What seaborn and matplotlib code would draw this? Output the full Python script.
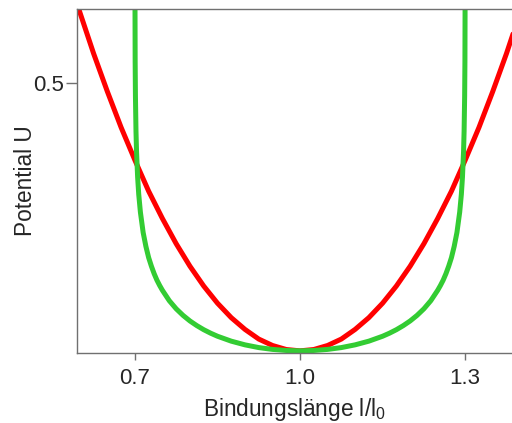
import numpy as np
import pandas as pd
import matplotlib
matplotlib.use("Agg")
import matplotlib.pyplot as plt
import seaborn as sns

# werte (Bindungslaenge l/l0 und Potential U)
# harmonisches potential (rot)
l_harm = [0.58, 0.60, 0.625, 0.65, 0.675, 0.70, 0.725, 0.75, 0.775, 0.80, 0.825,
          0.85, 0.875, 0.90, 0.925, 0.95, 0.975, 1.00, 1.025, 1.05, 1.075, 1.10,
          1.125, 1.15, 1.175, 1.20, 1.225, 1.25, 1.275, 1.30, 1.325, 1.35, 1.375, 1.40]
u_harm = [0.695, 0.632, 0.555, 0.484, 0.417, 0.356, 0.298, 0.247, 0.200, 0.158, 0.121,
          0.089, 0.062, 0.040, 0.022, 0.010, 0.0025, 0.0, 0.0025, 0.010, 0.022, 0.040,
          0.062, 0.089, 0.121, 0.158, 0.200, 0.247, 0.298, 0.356, 0.417, 0.484, 0.555, 0.632]

# FENE-artiges potential (gruen)
l_fene = [0.7001, 0.7005, 0.701, 0.702, 0.703, 0.705, 0.707, 0.71, 0.715, 0.72,
          0.725, 0.73, 0.735, 0.74, 0.745, 0.75, 0.7625, 0.775, 0.7875, 0.80, 0.8125,
          0.825, 0.8375, 0.85, 0.875, 0.90, 0.925, 0.95, 0.975, 1.00,
          1.025, 1.05, 1.075, 1.10, 1.125, 1.15, 1.1625, 1.175, 1.1875, 1.20, 1.2125,
          1.225, 1.2375, 1.25, 1.255, 1.26, 1.265, 1.27, 1.275, 1.28, 1.285, 1.29,
          1.293, 1.295, 1.297, 1.298, 1.299, 1.2995, 1.2999]
u_fene = [0.69, 0.54, 0.476, 0.41, 0.372, 0.324, 0.292, 0.259, 0.221, 0.195,
          0.174, 0.158, 0.144, 0.132, 0.122, 0.113, 0.0936, 0.0785, 0.0662, 0.0558, 0.0471,
          0.0395, 0.033, 0.0273, 0.0181, 0.0112, 0.0061, 0.0027, 0.0007, 0.0,
          0.0007, 0.0027, 0.0061, 0.0112, 0.0181, 0.0273, 0.033, 0.0395, 0.0471, 0.0558, 0.0662,
          0.0785, 0.0936, 0.113, 0.122, 0.132, 0.144, 0.158, 0.174, 0.195, 0.221, 0.259,
          0.292, 0.324, 0.372, 0.41, 0.476, 0.54, 0.69]

df_harm = pd.DataFrame({"l": l_harm, "U": u_harm})
df_fene = pd.DataFrame({"l": l_fene, "U": u_fene})

sns.set_style("ticks")
plt.rcParams["font.family"] = ["Liberation Sans", "DejaVu Sans"]
plt.rcParams["mathtext.fontset"] = "custom"
plt.rcParams["mathtext.rm"] = "Liberation Sans"

fig = plt.figure(figsize=(5.12, 4.23), dpi=100)
ax = fig.add_axes([0.150, 0.1655, 0.85, 0.8132])

sns.lineplot(data=df_harm, x="l", y="U", color="#ff0000", linewidth=3.6, sort=False, ax=ax)
sns.lineplot(data=df_fene, x="l", y="U", color="#33cc33", linewidth=3.6, sort=False, ax=ax)

ax.set_xlim(0.5945, 1.385)
ax.set_ylim(-0.004, 0.638)
ax.set_xticks([0.7, 1.0, 1.3])
ax.set_xticklabels(["0.7", "1.0", "1.3"])
ax.set_yticks([0.5])
ax.set_yticklabels(["0.5"])

grau = "#707070"
for s in ["left", "top", "bottom"]:
    ax.spines[s].set_color(grau)
    ax.spines[s].set_linewidth(1.0)
ax.spines["right"].set_visible(False)
ax.tick_params(axis="x", length=5, width=1, color=grau, pad=6, labelsize=16)
ax.tick_params(axis="y", length=8, width=1, color=grau, pad=1, labelsize=16)

ax.set_xlabel("Bindungslänge l/l$_\\mathregular{0}$", fontsize=16.3, labelpad=4.5)
ax.set_ylabel("Potential U", fontsize=16.3, labelpad=-2.5)

fig.savefig("out.png", dpi=100)
